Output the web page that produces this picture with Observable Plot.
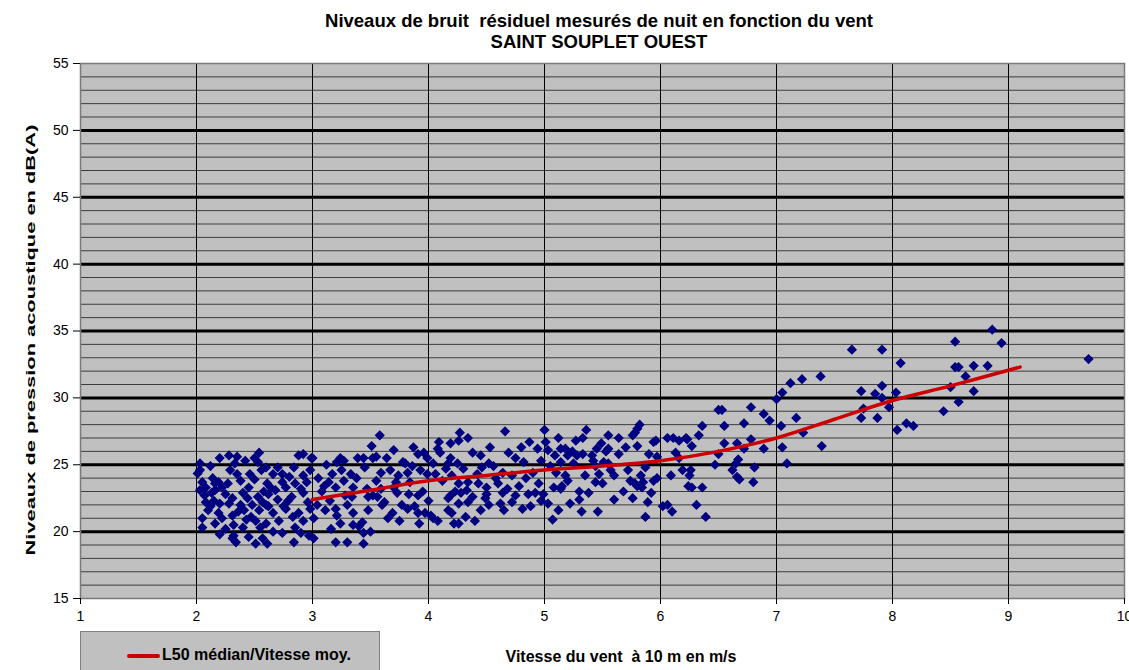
<!DOCTYPE html>
<html>
<head>
<meta charset="utf-8">
<script src="https://cdn.jsdelivr.net/npm/d3@7"></script>
<script src="https://cdn.jsdelivr.net/npm/@observablehq/plot@0.6"></script>
<style>
  html, body { margin: 0; padding: 0; background: #ffffff; }
  #wrap { position: relative; width: 1129px; height: 670px; overflow: hidden; font-family: "Liberation Sans", Arial, sans-serif; }
  #wrap svg { position: absolute; left: 0; top: 0; }
  .title { position: absolute; left: 0; width: 1198px; text-align: center; font-weight: bold; font-size: 18.5px; line-height: 21px; color: #000; white-space: pre; }
  .ylab { position: absolute; left: 30px; top: 340px; transform: translate(-50%, -50%) rotate(-90deg) scaleX(1.68); font-weight: bold; font-size: 13px; line-height: 15px; white-space: pre; }
  .xlab { position: absolute; left: 621px; top: 657px; transform: translate(-50%, -50%); font-weight: bold; font-size: 16px; white-space: pre; }
  #legend { position: absolute; left: 80px; top: 631px; width: 300px; height: 50px; background: #c0c0c0; border: 1.5px solid #808080; box-sizing: border-box; }
  #legend .sw { position: absolute; left: 46px; top: 22px; width: 33px; height: 3.5px; background: #cc0000; border-radius: 2px; }
  #legend .lt { position: absolute; left: 81px; top: 14px; font-weight: bold; font-size: 16px; line-height: 18px; white-space: pre; }
</style>
</head>
<body>
<div id="wrap"></div>
<script>
// ---- Data ----
const titleLines = ["Niveaux de bruit  résiduel mesurés de nuit en fonction du vent", "SAINT SOUPLET OUEST"];
const yAxisLabel = "Niveaux de pression acoustique en dB(A)";
const xAxisLabel = "Vitesse du vent  à 10 m en m/s";
const legendLabel = "L50 médian/Vitesse moy.";

const xTicks = [1, 2, 3, 4, 5, 6, 7, 8, 9, 10];
const yTicks = [15, 20, 25, 30, 35, 40, 45, 50, 55];

// L50 median curve
const l50Wind = [3.0, 3.5, 4.0, 4.5, 5.0, 5.5, 6.0, 6.5, 7.0, 7.5, 8.0, 8.5, 9.1];
const l50Level = [22.4, 23.1, 23.8, 24.2, 24.6, 24.9, 25.3, 26.0, 27.0, 28.4, 29.8, 30.9, 32.3];

// measured residual noise points [wind m/s, dB(A)]
const measuredPoints = [
  [2.01,24.35],[2.03,25.1],[2.12,24.9],[2.2,25.5],[2.28,25.7],[2.35,25.6],[2.33,25.1],[2.42,25.3],[2.54,25.9],[2.53,25.2],
  [2.6,24.8],[2.46,24.3],[2.38,23.8],[2.66,24.3],[2.74,24.3],[2.84,24.8],[2.88,25.7],[2.92,25.8],[2.99,25.5],[2.92,24.2],
  [2.98,24.6],[2.05,23.7],[2.08,23.3],[2.14,24.0],[2.19,23.7],[2.22,23.3],[2.16,23.1],[2.03,23.1],[2.08,22.2],[2.15,22.3],
  [2.25,22.8],[2.31,22.5],[2.28,22.1],[2.38,22.0],[2.45,23.3],[2.44,22.5],[2.53,22.6],[2.57,22.2],[2.62,22.8],[2.61,23.6],
  [2.68,23.1],[2.74,23.7],[2.77,23.3],[2.79,22.3],[2.85,23.6],[2.92,22.9],[2.95,23.7],[2.1,21.6],[2.19,21.4],[2.05,21.0],
  [2.05,20.3],[2.16,20.6],[2.25,20.2],[2.31,21.2],[2.32,20.5],[2.4,20.3],[2.41,21.6],[2.47,21.1],[2.51,20.8],[2.54,21.6],
  [2.6,20.6],[2.66,21.4],[2.71,20.8],[2.77,21.7],[2.83,21.1],[2.88,21.4],[2.92,20.8],[2.74,19.9],[2.85,20.3],[2.84,19.2],
  [2.97,19.7],[2.32,19.7],[2.34,19.2],[2.31,19.5],[2.51,19.1],[2.57,19.5],[2.61,19.1],[2.6,22.0],[2.48,22.0],[2.03,24.6],
  [2.16,23.6],[2.07,22.7],[2.12,21.9],[2.2,22.1],[2.27,23.6],[2.35,24.3],[2.4,22.9],[2.5,23.9],[2.56,24.6],[2.64,23.3],
  [2.7,22.4],[2.75,21.9],[2.8,24.1],[2.9,23.2],[2.96,22.2],[2.43,20.9],[2.55,20.3],[2.66,20.0],[2.22,21.0],[2.13,22.9],
  [2.36,21.5],[2.58,23.0],[2.7,24.8],[2.5,25.5],[2.82,22.6],[2.29,24.6],[2.45,19.6],[2.9,19.9],[2.2,19.8],[2.62,21.9],
  [2.98,21.7],
  [3.0,25.5],[3.24,25.5],[3.21,25.2],[3.27,25.3],[3.39,25.5],[3.44,25.5],[3.51,26.4],[3.58,27.2],[3.52,25.5],[3.7,26.1],
  [3.64,25.5],[3.78,25.2],[3.87,26.3],[3.91,25.8],[3.99,25.5],[4.08,26.2],[4.04,25.1],[3.05,24.0],[3.1,23.4],[3.14,23.7],
  [3.17,24.3],[3.2,23.3],[3.27,23.8],[3.33,24.3],[3.35,23.3],[3.28,22.7],[3.34,22.6],[3.47,23.2],[3.52,22.7],[3.59,23.2],
  [3.59,24.4],[3.67,24.6],[3.72,23.7],[3.74,24.2],[3.82,24.4],[3.8,25.1],[3.84,23.7],[3.93,24.6],[3.99,24.3],[3.73,22.9],
  [3.83,22.8],[3.91,22.7],[4.0,22.3],[3.04,22.0],[3.11,21.6],[3.2,21.7],[3.21,21.2],[3.35,21.4],[3.48,21.6],[3.6,22.0],
  [3.69,21.4],[3.82,21.7],[3.91,21.4],[3.97,21.4],[4.02,21.2],[4.04,21.0],[3.92,20.6],[3.01,21.0],[3.16,20.2],[3.24,20.6],
  [3.35,20.5],[3.43,20.7],[3.44,19.9],[3.01,19.5],[3.2,19.2],[3.3,19.2],[3.44,19.1],[3.48,22.6],[3.56,22.6],
  [3.08,23.0],[3.15,22.3],[3.3,22.0],[3.38,24.0],[3.45,24.8],[3.55,23.8],[3.62,22.2],[3.7,23.3],[3.77,22.0],[3.86,24.9],
  [3.95,23.0],[3.12,25.0],[3.25,24.6],[3.4,20.4],[3.5,20.0],[3.65,21.0],[3.75,20.8],[3.88,21.9],[3.55,25.6],[3.96,25.9],
  [4.27,27.4],[4.66,27.5],[5.0,27.6],[4.34,27.0],[4.26,26.8],[4.19,26.6],[4.09,26.7],[4.1,25.9],[4.38,25.9],[4.53,26.3],
  [4.69,25.9],[4.87,26.7],[4.94,26.2],[5.01,26.7],[5.12,27.0],[5.03,26.1],[5.09,25.7],[5.14,26.2],[4.75,25.5],[4.82,25.2],
  [4.97,25.3],[5.05,24.9],[4.19,25.5],[4.17,25.1],[4.25,25.1],[4.3,24.7],[4.52,25.1],[4.56,24.9],[4.42,24.3],[4.06,24.3],
  [4.12,23.8],[4.2,24.2],[4.26,23.6],[4.34,23.7],[4.43,23.6],[4.5,23.3],[4.64,24.4],[4.72,24.2],[4.84,24.0],[4.95,23.6],
  [5.08,23.3],[5.15,23.4],[4.19,22.7],[4.28,22.9],[4.33,23.1],[4.5,22.8],[4.64,22.9],[4.75,22.7],[4.86,22.8],[4.92,22.9],
  [4.99,22.8],[4.17,22.5],[4.26,22.1],[4.34,22.2],[4.49,22.5],[4.52,22.0],[4.72,22.2],[4.97,22.3],[5.03,22.1],[4.17,21.6],
  [4.2,21.4],[4.45,21.6],[4.65,21.6],[4.81,21.7],[4.32,21.1],[4.08,20.8],[4.22,20.6],[4.26,20.6],[5.07,20.9],
  [4.15,24.7],[4.23,23.0],[4.38,22.6],[4.46,24.8],[4.6,23.6],[4.68,23.2],[4.78,23.4],[4.9,24.4],[4.45,25.7],[4.58,24.0],
  [4.8,26.3],[4.62,22.1],[4.88,21.9],[4.4,20.8],
  [5.82,28.0],[5.8,27.7],[5.78,27.4],[5.76,27.2],[5.36,27.6],[5.55,27.2],[5.64,27.0],[5.33,27.0],[5.27,26.8],[5.49,26.6],
  [5.8,26.4],[5.96,26.8],[6.06,27.0],[6.11,27.0],[6.16,26.8],[6.22,27.0],[5.94,26.7],[5.55,26.2],[5.53,26.0],[5.18,26.2],
  [5.24,26.0],[5.2,25.7],[5.28,25.7],[5.41,25.7],[5.64,25.8],[5.9,25.8],[5.97,25.6],[6.13,25.9],[6.16,25.5],[5.14,25.2],
  [5.25,25.1],[5.42,25.3],[5.44,24.9],[5.51,25.2],[5.55,25.1],[5.57,24.6],[5.18,24.2],[5.2,23.8],[5.35,24.2],[5.47,24.3],
  [5.72,24.6],[5.83,24.2],[5.87,24.8],[5.97,24.0],[6.09,24.2],[6.19,24.6],[5.44,23.7],[5.74,23.8],[5.78,23.6],[5.85,23.7],
  [5.94,23.8],[5.14,23.2],[5.8,23.4],[5.84,23.3],[6.24,23.4],[5.76,22.5],[5.89,22.2],[5.22,22.1],[5.3,22.4],[6.02,21.9],
  [6.06,22.0],[6.1,21.5],[5.32,21.5],[5.46,21.5],[5.87,21.1],[6.31,22.0],[6.39,21.1],
  [5.1,24.4],[5.3,23.0],[5.38,22.9],[5.5,23.6],[5.6,24.2],[5.68,23.0],[5.33,25.8],[5.45,26.2],[5.7,26.3],[5.92,22.9],
  [5.6,22.4],[5.12,21.6],
  [7.38,31.6],[7.22,31.4],[7.12,31.1],[7.05,30.4],[7.0,29.9],[6.5,29.1],[6.53,29.1],[6.78,29.3],[6.89,28.8],[6.94,28.3],
  [7.17,28.5],[7.04,27.9],[7.23,27.4],[6.36,27.9],[6.55,27.9],[6.72,28.1],[6.33,27.2],[6.23,26.9],[6.27,26.4],[6.55,26.6],
  [6.66,26.6],[6.78,26.9],[6.72,26.2],[6.89,26.2],[7.05,26.3],[7.39,26.4],[6.5,25.8],[6.67,25.4],[6.65,25.1],[6.47,25.0],
  [6.81,24.8],[7.09,25.1],[6.62,24.6],[6.26,24.6],[6.25,24.2],[6.66,24.1],[6.68,23.9],[6.8,23.7],[6.27,23.3],[6.36,23.3],
  [7.65,33.6],[7.91,33.6],[8.07,32.6],[7.73,30.5],[7.85,30.3],[7.91,30.9],[7.91,30.0],[8.03,30.4],[7.75,29.2],[7.73,28.5],
  [7.87,28.5],[7.97,29.3],[8.04,27.6],[8.12,28.1],[8.18,27.9],[8.44,29.0],[8.5,30.8],[8.54,32.3],[8.57,32.3],[8.54,34.2],
  [8.63,31.6],[8.7,32.4],[8.7,30.5],[8.57,29.7],[8.82,32.4],[8.86,35.1],[8.94,34.1],[9.69,32.9]
];

// ---- Build ----
const pointTable = measuredPoints.map(([w, l]) => ({wind: w, level: l}));
const l50Table = l50Wind.map((w, i) => ({wind: w, level: l50Level[i]}));
const majorLevels = yTicks.filter(v => v > 15 && v < 55);
const minorLevels = d3.range(16, 55).filter(v => v % 5 !== 0);
const verticalGrid = xTicks.filter(v => v > 1 && v < 10);

const chart = Plot.plot({
  width: 1129,
  height: 670,
  marginLeft: 80,
  marginRight: 5,
  marginTop: 63,
  marginBottom: 72,
  style: {fontFamily: "'Liberation Sans', Arial, sans-serif", fontSize: "14px", background: "transparent", color: "#000"},
  x: {domain: [1, 10], label: null},
  y: {domain: [15, 55], label: null},
  marks: [
    Plot.frame({fill: "#c0c0c0"}),
    Plot.ruleY(minorLevels, {stroke: "#3c3c3c", strokeWidth: 1}),
    Plot.ruleX(verticalGrid, {stroke: "#000", strokeWidth: 1}),
    Plot.ruleY(majorLevels, {stroke: "#000", strokeWidth: 3}),
    Plot.dot(pointTable, {x: "wind", y: "level", symbol: "diamond2", r: 4.6, fill: "#000080", stroke: "none"}),
    Plot.line(l50Table, {x: "wind", y: "level", stroke: "#cc0000", strokeWidth: 3.5, curve: "catmull-rom"}),
    Plot.frame({stroke: "#7a7a7a", strokeWidth: 1.5}),
    Plot.axisX({ticks: xTicks, tickFormat: d => String(d), tickSize: 6, tickPadding: 7, fontSize: 14, label: null}),
    Plot.axisY({ticks: yTicks, tickFormat: d => String(d), tickSize: 7, tickPadding: 5, fontSize: 14, label: null})
  ]
});

const wrap = document.getElementById("wrap");
wrap.appendChild(chart);

const t1 = document.createElement("div");
t1.className = "title"; t1.style.top = "10px";
t1.textContent = titleLines[0];
const t2 = document.createElement("div");
t2.className = "title"; t2.style.top = "31px";
t2.textContent = titleLines[1];
const yl = document.createElement("div"); yl.className = "ylab"; yl.textContent = yAxisLabel;
const xl = document.createElement("div"); xl.className = "xlab"; xl.textContent = xAxisLabel;
const lg = document.createElement("div"); lg.id = "legend";
lg.innerHTML = '<div class="sw"></div><div class="lt"></div>';
lg.querySelector(".lt").textContent = legendLabel;
[t1, t2, yl, xl, lg].forEach(e => wrap.appendChild(e));
</script>
</body>
</html>
